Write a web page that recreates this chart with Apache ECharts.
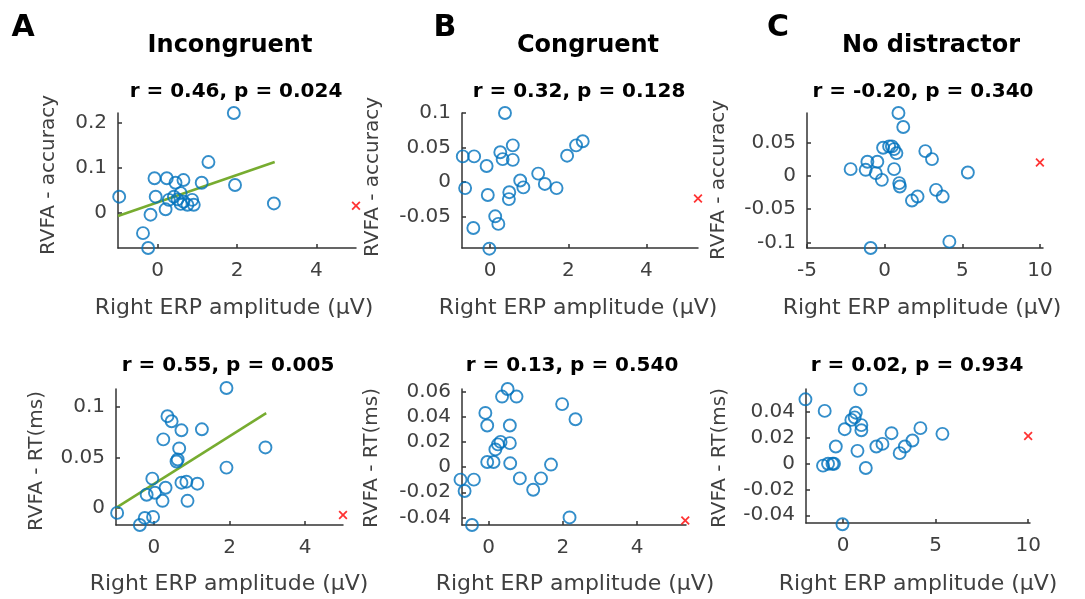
<!DOCTYPE html>
<html><head><meta charset="utf-8">
<script src="https://cdn.jsdelivr.net/npm/echarts@6/dist/echarts.min.js"></script>
<style>html,body{margin:0;padding:0;background:#fff}#c{width:1085px;height:599px}</style>
</head><body><div id="c"></div>
<script>
// ---- Data ----
const aTopX = [-0.97,-0.08,0.23,0.45,0.65,1.11,1.28,1.92,1.95,2.93,-0.05,-0.18,-0.37,-0.24,0.20,0.28,0.41,0.58,0.65,0.75,0.87,0.91,0.58,0.50];
const aTopY = [0.036,0.077,0.077,0.067,0.073,0.067,0.113,0.222,0.062,0.021,0.036,-0.004,-0.045,-0.078,0.008,0.029,0.036,0.044,0.025,0.018,0.029,0.018,0.020,0.030];
const aTopOutlier = [[5, 0.016]];
const aTopFit = [[-1, -0.007], [2.95, 0.113]];

const aBotX = [-0.97,-0.37,-0.24,-0.02,-0.19,-0.04,0.03,0.23,0.31,0.25,0.36,0.47,0.73,0.67,0.60,0.63,0.73,0.86,0.89,1.15,1.27,1.92,1.92,2.95];
const aBotY = [-0.005,-0.017,-0.010,-0.009,0.013,0.029,0.015,0.007,0.020,0.068,0.091,0.086,0.077,0.059,0.046,0.048,0.025,0.026,0.007,0.024,0.078,0.119,0.040,0.060];
const aBotOutlier = [[5, -0.007]];
const aBotFit = [[-1, 0.0], [2.97, 0.094]];

const bTopX = [-0.70,-0.41,-0.09,0.38,0.26,0.32,0.58,0.58,-0.64,-0.06,-0.43,-0.02,0.13,0.21,0.49,0.48,0.77,0.85,1.23,1.40,1.70,1.97,2.20,2.37];
const bTopY = [0.037,0.037,0.023,0.100,0.043,0.033,0.053,0.032,-0.009,-0.019,-0.067,-0.097,-0.050,-0.061,-0.015,-0.025,0.002,-0.008,0.012,-0.003,-0.009,0.038,0.053,0.059];
const bTopOutlier = [[5.32, -0.024]];

const bBotX = [-0.76,-0.65,-0.40,-0.45,-0.09,-0.04,-0.04,0.13,0.18,0.25,0.32,0.36,0.51,0.75,0.57,0.57,0.58,0.84,1.20,1.41,1.68,1.98,2.34,2.18];
const bBotY = [-0.010,-0.019,-0.010,-0.046,0.043,0.033,0.004,0.004,0.014,0.018,0.020,0.056,0.062,0.056,0.033,0.019,0.003,-0.009,-0.018,-0.009,0.002,0.050,0.038,-0.040];
const bBotOutlier = [[5.3, -0.0425]];

const cTopX = [-2.19,-1.22,-1.11,-0.47,-0.57,-0.18,-0.10,0.29,0.47,0.61,0.76,0.61,0.89,1.20,0.94,0.98,-0.90,2.62,3.05,1.76,2.12,3.31,3.74,4.17,5.36];
const cTopY = [0.010,0.009,0.021,0.021,0.004,-0.006,0.042,0.044,0.044,0.040,0.034,0.010,0.094,0.073,-0.011,-0.016,-0.108,0.037,0.025,-0.037,-0.031,-0.021,-0.031,-0.0985,0.005];
const cTopOutlier = [[10, 0.020]];

const cBotX = [-2.03,-0.99,-1.08,-0.81,-0.57,-0.49,-0.39,-0.03,0.09,0.45,0.69,0.63,0.94,0.99,0.99,0.78,1.23,1.80,2.13,2.62,3.06,3.34,3.75,4.18,5.37];
const cBotY = [0.050,0.041,-0.0015,0.000,0.000,0.000,0.0134,-0.047,0.0268,0.034,0.0396,0.036,0.0577,0.030,0.026,0.010,-0.0033,0.0134,0.0154,0.0237,0.0082,0.0134,0.018,0.0276,0.0232];
const cBotOutlier = [[10, 0.0216]];

// ---- Tick labels ----
const xTicksAB = [0, 2, 4];
const xTicksCTop = [-5, 0, 5, 10];
const xTicksCBot = [0, 5, 10];
const yTicksATop = [0, 0.1, 0.2];
const yTicksABot = [0, 0.05, 0.1];
const yTicksBTop = [-0.05, 0, 0.05, 0.1];
const yTicksBBot = [-0.04, -0.02, 0, 0.02, 0.04, 0.06];
const yTicksCTop = [-0.1, -0.05, 0, 0.05];
const yTicksCBot = [-0.04, -0.02, 0, 0.02, 0.04];

// ---- Text ----
const conditionTitles = ['Incongruent', 'Congruent', 'No distractor'];
const panelLetters = ['A', 'B', 'C'];
const statsTop = ['r = 0.46, p = 0.024', 'r = 0.32, p = 0.128', 'r = -0.20, p = 0.340'];
const statsBot = ['r = 0.55, p = 0.005', 'r = 0.13, p = 0.540', 'r = 0.02, p = 0.934'];
const yLabelTop = 'RVFA - accuracy';
const yLabelBot = 'RVFA - RT(ms)';
const xLabel = 'Right ERP amplitude (\u00B5V)';

// ---- Layout ----
const FONT = 'DejaVu Sans';
const zip = (xs, ys) => xs.map((x, i) => [x, ys[i]]);
const panels = [
  {grid:{left:118,top:113,width:238,height:135}, x:[-1,5], y:[-0.078,0.222], xt:xTicksAB, yt:yTicksATop, pts:zip(aTopX,aTopY), out:aTopOutlier, fit:aTopFit},
  {grid:{left:462,top:113,width:236,height:135}, x:[-0.72,5.32], y:[-0.096,0.1], xt:xTicksAB, yt:yTicksBTop, pts:zip(bTopX,bTopY), out:bTopOutlier},
  {grid:{left:807,top:113,width:236,height:135}, x:[-5,10.2], y:[-0.108,0.094], xt:xTicksCTop, yt:yTicksCTop, pts:zip(cTopX,cTopY), out:cTopOutlier},
  {grid:{left:116,top:389,width:227,height:136}, x:[-1,5], y:[-0.017,0.118], xt:xTicksAB, yt:yTicksABot, pts:zip(aBotX,aBotY), out:aBotOutlier, fit:aBotFit},
  {grid:{left:462,top:389,width:224,height:136}, x:[-0.72,5.32], y:[-0.046,0.062], xt:xTicksAB, yt:yTicksBBot, pts:zip(bBotX,bBotY), out:bBotOutlier},
  {grid:{left:806,top:389,width:224,height:134}, x:[-2,10.1], y:[-0.046,0.058], xt:xTicksCBot, yt:yTicksCBot, pts:zip(cBotX,cBotY), out:cBotOutlier}
];

const axisLine = {show:true, onZero:false, lineStyle:{color:'#333', width:1.5}};
const axisTick = (vals) => ({show:true, inside:true, length:4, customValues:vals, lineStyle:{color:'#333', width:1.5}});
const axisLabel = (vals, m) => ({show:true, customValues:vals, color:'#404040', fontFamily:FONT, fontSize:20, margin:m});

const grids = [], xAxes = [], yAxes = [], series = [];
const crossPath = 'path://M0,1.4L1.4,0L5,3.6L8.6,0L10,1.4L6.4,5L10,8.6L8.6,10L5,6.4L1.4,10L0,8.6L3.6,5Z';
panels.forEach((p, i) => {
  grids.push(p.grid);
  xAxes.push({type:'value', gridIndex:i, min:p.x[0], max:p.x[1], axisLine, axisTick:axisTick(p.xt), axisLabel:axisLabel(p.xt, 13), splitLine:{show:false}});
  yAxes.push({type:'value', gridIndex:i, min:p.y[0], max:p.y[1], axisLine, axisTick:axisTick(p.yt), axisLabel:axisLabel(p.yt, 11), splitLine:{show:false}});
  if (p.fit) series.push({type:'line', xAxisIndex:i, yAxisIndex:i, data:p.fit, showSymbol:false, symbol:'none', lineStyle:{color:'#77AC30', width:2.5}, z:1, animation:false});
  series.push({type:'scatter', xAxisIndex:i, yAxisIndex:i, data:p.pts, symbol:'circle', symbolSize:12, clip:false,
    itemStyle:{color:'rgba(0,0,0,0)', borderColor:'#0072BD', borderWidth:1.9}, z:2, animation:false});
  series.push({type:'scatter', xAxisIndex:i, yAxisIndex:i, data:p.out, symbol:crossPath, symbolSize:9, clip:false,
    itemStyle:{color:'#FF0000'}, z:3, animation:false});
});

const txt = (text, x, y, size, bold, color, rot) => ({type:'text', x, y, rotation: rot || 0,
  style:{text, fill:color, font:(bold?'bold ':'') + size + 'px "' + FONT + '"', textAlign:'center', textVerticalAlign:'middle'}});

const graphic = [];
const colCenters = [230, 588, 931];
const letterX = [23, 445, 778];
const statTopX = [236, 579, 923];
const statBotX = [228, 572, 917];
const xLabTopX = [234, 578, 922];
const xLabBotX = [229, 575, 918];
const yLabTop = [[49,175],[373,177],[719,180]];
const yLabBot = [[37,461],[372,458],[720,458]];
for (let c = 0; c < 3; c++) {
  graphic.push(txt(panelLetters[c], letterX[c], 28, 30, true, '#000'));
  graphic.push(txt(conditionTitles[c], colCenters[c], 46, 24, true, '#000'));
  graphic.push(txt(statsTop[c], statTopX[c], 92, 20, true, '#000'));
  graphic.push(txt(statsBot[c], statBotX[c], 366, 20, true, '#000'));
  graphic.push(txt(xLabel, xLabTopX[c], 308, 22, false, '#404040'));
  graphic.push(txt(xLabel, xLabBotX[c], 584, 22, false, '#404040'));
  graphic.push(txt(yLabelTop, yLabTop[c][0], yLabTop[c][1], 20, false, '#404040', Math.PI/2));
  graphic.push(txt(yLabelBot, yLabBot[c][0], yLabBot[c][1], 20, false, '#404040', Math.PI/2));
}

const chart = echarts.init(document.getElementById('c'), null, {renderer:'canvas'});
chart.setOption({backgroundColor:'#fff', animation:false, grid:grids, xAxis:xAxes, yAxis:yAxes, series, graphic});
</script>
</body></html>
